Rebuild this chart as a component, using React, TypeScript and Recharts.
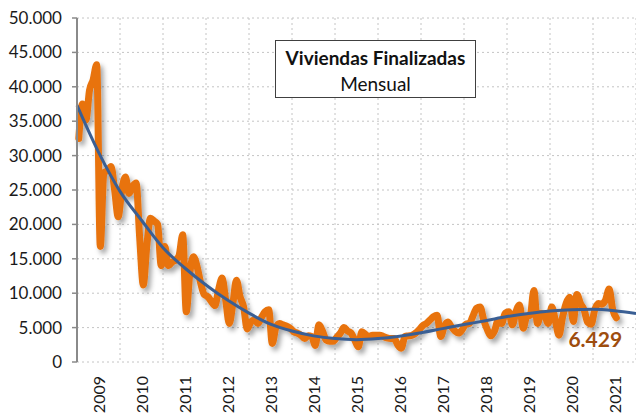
import { LineChart, Line, XAxis, YAxis, CartesianGrid } from 'recharts'

// Viviendas finalizadas, mensual, ene 2009 - jul 2021
const monthly = [
  32500, 37500, 35200, 39500, 41000, 43200, 16800, 27500, 27800, 28400, 25000, 21100,
  25000, 26900, 24500, 25500, 26000, 18000, 11200, 17000, 20900, 20500, 20000, 14000,
  16800, 14000, 14500, 14800, 15500, 18500, 7300, 13000, 15300, 13900, 11500, 9800,
  9500, 8800, 8200, 10500, 12200, 9000, 5600, 8500, 11900, 9500, 8000, 4800,
  5800, 6100, 5600, 6500, 7300, 7600, 2700, 5000, 5600, 5400, 5200, 4900,
  4400, 4200, 3900, 3400, 3800, 3700, 2400, 5400, 4500, 3200, 3000, 3000,
  3600, 4200, 5000, 4500, 4200, 3200, 2200, 4400, 4000, 3700, 3900, 3900,
  3900, 3700, 3500, 3400, 3400, 2500, 2000, 3700, 3800, 3900, 4200, 4700,
  5300, 5600, 6100, 6600, 6800, 3700, 5200, 5800, 5100, 4500, 4200, 4700,
  5500, 5600, 6700, 7800, 8000, 6100, 4700, 3800, 4500, 6000, 5600, 7100,
  7300, 5400, 7300, 8300, 4900, 6600, 6800, 10400, 5600, 7100, 6800, 5600,
  8000, 6000, 3900, 6500, 8500, 9400, 5900, 9800, 8500, 7600, 5800, 5500,
  7600, 8500, 8400, 9000, 10600, 7600, 6429,
]

// tendencia (polinómica), en meses desde ene 2009
const trendMonths = [0, 6, 12, 18, 24, 30, 36, 42, 48, 54, 60, 66, 72, 78, 84, 90, 96, 102, 108, 114, 120, 126, 132, 138, 144, 150, 156]
const trendValues = [
  37300, 30500, 24800, 20600, 16600, 13700, 11200, 9000, 7100, 5500, 4500, 3800, 3400, 3250,
  3400, 3750, 4250, 4850, 5450, 6000, 6600, 7050, 7400, 7600, 7650, 7450, 7050,
]

const years = ['2009', '2010', '2011', '2012', '2013', '2014', '2015', '2016', '2017', '2018', '2019', '2020', '2021']
const yTicks = [0, 5000, 10000, 15000, 20000, 25000, 30000, 35000, 40000, 45000, 50000]

const seriesData = monthly.map((v, i) => ({ x: i + 0.5, v }))
const trendData = trendMonths.map((m, i) => ({ x: m, t: trendValues[i] }))
const yearBounds = years.map((_, i) => i * 12).concat(years.length * 12)
const yearMids = years.map((_, i) => i * 12 + 6)

const fmt = (v: number) => String(v).replace(/\B(?=(\d{3})+(?!\d))/g, '.')

function NoTick() {
  return <g />
}

function YearTick({ x, y, index }: any) {
  return (
    <text
      x={x}
      y={y}
      transform={`rotate(-90 ${x} ${y})`}
      textAnchor="end"
      dominantBaseline="central"
      fontSize={16}
      fill="#1a1a1a"
    >
      {years[index]}
    </text>
  )
}

function LastLabel({ x, y, index }: any) {
  if (index !== monthly.length - 1) return null
  return (
    <text x={x - 21} y={y + 29} textAnchor="middle" fontSize={21} fontWeight={700} fill="#9E4D0E">
      {fmt(monthly[index])}
    </text>
  )
}

export default function App() {
  return (
    <div style={{ position: 'absolute', left: 0, top: 0, width: 636, height: 414, background: '#fff', fontFamily: 'Lato, sans-serif' }}>
      <LineChart width={636} height={414} margin={{ top: 18, right: 0, bottom: 0, left: 0 }}>
        <defs>
          <filter id="lineShadow" x="-5%" y="-5%" width="115%" height="120%">
            <feDropShadow dx="3" dy="4" stdDeviation="2.4" floodColor="#000" floodOpacity="0.35" />
          </filter>
        </defs>
        <CartesianGrid stroke="#c4c4c4" strokeDasharray="2 3" />
        <XAxis
          type="number"
          dataKey="x"
          domain={[0, 156]}
          ticks={yearBounds}
          tick={<NoTick />}
          height={0}
          tickSize={5}
          interval={0}
          axisLine={{ stroke: '#8a8a8a', strokeWidth: 2 }}
          tickLine={{ stroke: '#8a8a8a', strokeWidth: 1.5 }}
        />
        <XAxis
          xAxisId="lab"
          type="number"
          dataKey="x"
          domain={[0, 156]}
          ticks={yearMids}
          height={52}
          axisLine={false}
          tickLine={false}
          tickSize={0}
          tickMargin={14}
          tick={<YearTick />}
          interval={0}
        />
        <YAxis
          type="number"
          domain={[0, 50000]}
          ticks={yTicks}
          width={77}
          tickSize={5}
          tickMargin={10}
          tickFormatter={fmt}
          tick={{ fontSize: 17, fill: '#1a1a1a' }}
          axisLine={{ stroke: '#8a8a8a', strokeWidth: 2 }}
          tickLine={{ stroke: '#8a8a8a', strokeWidth: 1.5 }}
          interval={0}
        />
        <Line
          xAxisId="lab"
          data={seriesData}
          dataKey="v"
          stroke="none"
          dot={false}
          activeDot={false}
          legendType="none"
          isAnimationActive={false}
        />
        <Line
          data={seriesData}
          dataKey="v"
          type="monotone"
          stroke="#E8730F"
          strokeWidth={7}
          strokeLinejoin="round"
          strokeLinecap="round"
          dot={false}
          filter="url(#lineShadow)"
          isAnimationActive={false}
          label={<LastLabel />}
        />
        <Line
          data={trendData}
          dataKey="t"
          type="monotone"
          stroke="#3A5F94"
          strokeWidth={3}
          dot={false}
          isAnimationActive={false}
        />
      </LineChart>
      <div
        style={{
          position: 'absolute',
          left: 275,
          top: 40,
          width: 201,
          height: 58,
          border: '1px solid #404040',
          background: '#fff',
          textAlign: 'center',
          lineHeight: '26px',
          fontSize: 19,
          color: '#111',
          paddingTop: 4,
          boxSizing: 'border-box',
        }}
      >
        <div style={{ fontWeight: 700 }}>Viviendas Finalizadas</div>
        <div>Mensual</div>
      </div>
    </div>
  )
}
